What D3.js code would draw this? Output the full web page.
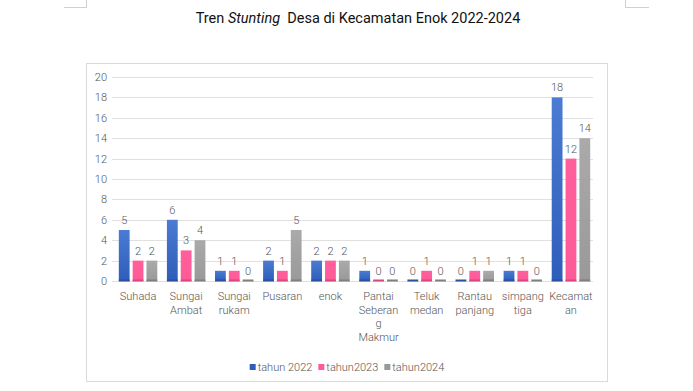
<!DOCTYPE html>
<html><head><meta charset="utf-8">
<script src="https://cdn.jsdelivr.net/npm/d3@7"></script>
<style>
body{margin:0;background:#fff;}
svg{display:block;font-family:Roboto,"Noto Sans",sans-serif;}
</style></head>
<body><svg id="c" width="693" height="391"></svg>
<script>
const categories = ["Suhada","Sungai\nAmbat","Sungai\nrukam","Pusaran","enok","Pantai\nSeberan\ng\nMakmur","Teluk\nmedan","Rantau\npanjang","simpang\ntiga","Kecamat\nan"];
const seriesNames = ["tahun 2022","tahun2023","tahun2024"];
const tahun2022 = [5,6,1,2,2,1,0,0,1,18];
const tahun2023 = [2,3,1,1,2,0,1,1,1,12];
const tahun2024 = [2,4,0,5,2,0,0,1,0,14];
const yTicks = [0,2,4,6,8,10,12,14,16,18,20];
const seriesValues = [tahun2022, tahun2023, tahun2024];

const colorsTop = ["#4b7bd3","#ff5f9c","#aaaaaa"];
const colorsBot = ["#2f5dba","#ff5a98","#999999"];
const colorsEdge = ["#2a4f9e","#d9467f","#7f7f7f"];
const textCol = "#555555";

const svg = d3.select("#c");
const defs = svg.append("defs");
seriesNames.forEach((s,i)=>{
  const g = defs.append("linearGradient").attr("id","g"+i).attr("x1",0).attr("y1",0).attr("x2",0).attr("y2",1);
  g.append("stop").attr("offset","0%").attr("stop-color",colorsTop[i]);
  g.append("stop").attr("offset","100%").attr("stop-color",colorsBot[i]);
});

// page corner marks
svg.append("path").attr("d","M64,7.5H86.5V0").attr("fill","none").attr("stroke","#d0d0d0");
svg.append("path").attr("d","M625.5,0V7.5H649").attr("fill","none").attr("stroke","#d0d0d0");

// title
const title = svg.append("text").attr("x",358).attr("y",23).attr("text-anchor","middle")
  .attr("font-size",14.5).attr("fill","#111").style("white-space","pre");
title.append("tspan").text("Tren ");
title.append("tspan").attr("font-style","italic").text("Stunting");
title.append("tspan").text("  Desa di Kecamatan Enok 2022-2024");

// chart border
svg.append("rect").attr("x",86.5).attr("y",63.5).attr("width",521).attr("height",318)
  .attr("fill","#fff").attr("stroke","#d9d9d9");

const y = d3.scaleLinear().domain([0,20]).range([281,77]);
const x0 = d3.scaleBand().domain(categories).range([114,595]).paddingInner(0.2).paddingOuter(0.1);
const x1 = d3.scaleBand().domain(seriesNames).range([0,x0.bandwidth()]).paddingInner(0.22);

// gridlines
svg.append("g").selectAll("line").data(yTicks).join("line")
  .attr("x1",112).attr("x2",593).attr("y1",d=>Math.round(y(d))+0.5).attr("y2",d=>Math.round(y(d))+0.5)
  .attr("stroke","#e0e0e0");

// y axis labels
const yAxis = d3.axisLeft(y).tickValues(yTicks).tickSize(0).tickPadding(0);
const ya = svg.append("g").attr("transform","translate(107,0)").call(yAxis);
ya.select(".domain").remove();
ya.selectAll("text").attr("font-size",11).attr("fill",textCol).attr("font-family","Roboto,sans-serif").attr("font-weight",300);

// bars
const groups = svg.append("g").selectAll("g").data(categories).join("g")
  .attr("transform",d=>`translate(${x0(d)},0)`);
groups.each(function(c,ci){
  const g = d3.select(this);
  seriesNames.forEach((s,si)=>{
    const v = seriesValues[si][ci];
    const bx = x1(s), bw = x1.bandwidth();
    if(v>0){
      g.append("rect").attr("x",bx).attr("y",y(v)).attr("width",bw).attr("height",y(0)-y(v))
        .attr("fill",`url(#g${si})`);
    }
    g.append("rect").attr("x",bx).attr("y",y(0)-1.5).attr("width",bw).attr("height",2)
      .attr("fill",colorsEdge[si]);
    g.append("text").attr("x",bx+bw/2).attr("y",y(v)-6).attr("text-anchor","middle")
      .attr("font-size",11).attr("font-weight",300).attr("fill",textCol).text(v);
  });
});

// category labels
const xl = svg.append("g").selectAll("text").data(categories).join("text")
  .attr("x",d=>x0(d)+x0.bandwidth()/2).attr("y",300).attr("text-anchor","middle")
  .attr("font-size",11).attr("font-weight",300).attr("fill",textCol);
xl.each(function(d){
  const t = d3.select(this);
  d.split("\n").forEach((line,i)=>{
    t.append("tspan").attr("x",x0(d)+x0.bandwidth()/2).attr("dy",i===0?0:13.7).text(line);
  });
});

// legend
const lg = svg.append("g");
let lx = 0;
seriesNames.forEach((s,i)=>{
  const it = lg.append("g");
  it.append("rect").attr("x",0).attr("y",-3).attr("width",6).attr("height",6).attr("fill",colorsBot[i]);
  const tx = it.append("text").attr("x",8).attr("y",4).attr("font-size",11).attr("font-weight",300)
    .attr("fill",textCol).text(s);
  const w = 8 + tx.node().getComputedTextLength();
  it.attr("transform",`translate(${lx},0)`);
  lx += w + 6;
});
const totalW = lx - 6;
lg.attr("transform",`translate(${347 - totalW/2},367)`);
</script></body></html>
